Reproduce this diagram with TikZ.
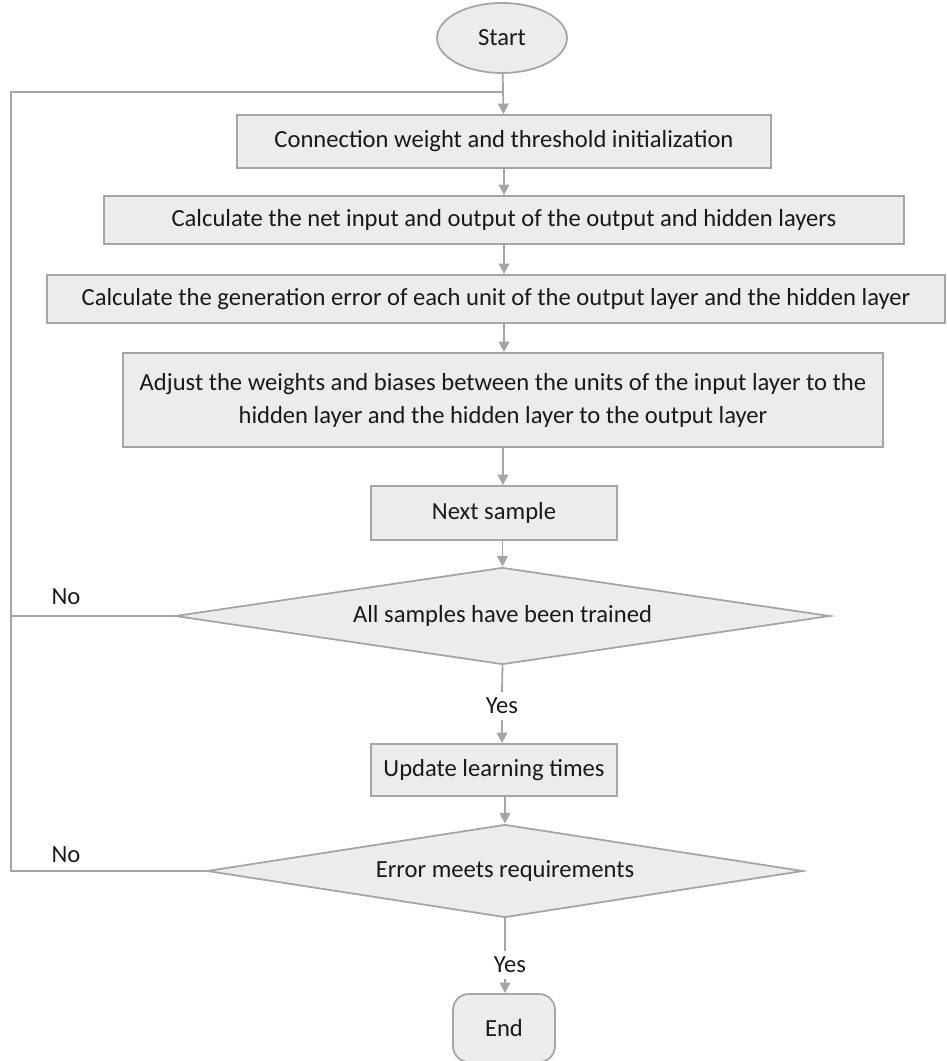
\documentclass[tikz,border=0pt]{standalone}
\usepackage{fontspec}
\setmainfont{Carlito}
\usepackage{tikz}
\usetikzlibrary{shapes.geometric, arrows.meta}
\definecolor{FlowFill}{RGB}{236,236,236}
\definecolor{FlowLine}{RGB}{165,165,165}
\definecolor{FlowText}{RGB}{25,25,25}

\begin{document}
\begin{tikzpicture}[
          font=\fontsize{14}{18.8}\selectfont, text=FlowText,
          pbox/.style={rectangle, draw=FlowLine, fill=FlowFill, line width=1pt,
                       minimum height=1.0cm, align=center, inner sep=2pt},
          dbox/.style={diamond, draw=FlowLine, fill=FlowFill, line width=1pt,
                       aspect=6.5, inner sep=2pt},
          arr/.style={-{Triangle[length=6pt, width=6pt]}, draw=FlowLine, line width=1pt},
          lnk/.style={draw=FlowLine, line width=1pt}
        ]
        \useasboundingbox (0,0) rectangle (18.94,-21.22);

        \node[ellipse, draw=FlowLine, fill=FlowFill, line width=1pt,
              minimum width=2.6cm, minimum height=1.4cm]
              (start) at (10.04,-0.76) {Start};

        \node[pbox, minimum width=10.68cm, minimum height=1.06cm]
              (init) at (10.08,-2.83) {Connection weight and threshold initialization};
        \node[pbox, minimum width=16cm, minimum height=0.96cm]
              (net) at (10.08,-4.40) {Calculate the net input and output of the output and hidden layers};
        \node[pbox, minimum width=17.96cm, minimum height=0.96cm]
              (gerr) at (9.92,-5.98) {Calculate the generation error of each unit of the output layer and the hidden layer};
        \node[pbox, minimum width=15.2cm, minimum height=1.88cm]
              (adj) at (10.06,-8.00) {Adjust the weights and biases between the units of the input layer to the\\
                                     hidden layer and the hidden layer to the output layer};
        \node[pbox, minimum width=4.92cm, minimum height=1.08cm]
              (next) at (9.88,-10.26) {Next sample};

        \node[dbox, minimum width=13.1cm, minimum height=1.94cm]
              (alltr) at (10.05,-12.32) {All samples have been trained};
        \node (yes1) at (10.04,-14.12) {Yes};

        \node[pbox, minimum width=4.92cm, minimum height=1.04cm]
              (upd) at (9.88,-15.40) {Update learning times};

        \node[dbox, minimum width=11.92cm, minimum height=1.86cm]
              (errok) at (10.1,-17.42) {Error meets requirements};
        \node (yes2) at (10.2,-19.30) {Yes};

        \node[rectangle, rounded corners=9pt, draw=FlowLine, fill=FlowFill, line width=1pt,
              minimum width=2.04cm, minimum height=1.36cm]
              (stop) at (10.08,-20.56) {End};

        \node (no1) at (1.32,-11.94) {No};
        \node (no2) at (1.32,-17.10) {No};

        \coordinate (loopx) at (0.22,0);
        \coordinate (merge) at (10.06,-1.84);

        \draw[arr] (start) -- (init);
        \draw[arr] (init.south) -- (init.south |- net.north);
        \draw[arr] (net.south) -- (net.south |- gerr.north);
        \draw[arr] (gerr.south -| net.south) -- (adj.north -| net.south);
        \draw[arr] (adj.south) -- (adj.south |- next.north);
        \draw[arr] (next.south -| alltr.north) -- (alltr.north);
        \draw[lnk] (alltr.south) -- (yes1.north);
        \draw[arr] (yes1.south) -- (yes1.south |- upd.north);
        \draw[arr] (upd.south -| errok.north) -- (errok.north);
        \draw[lnk] (errok.south) -- (errok.south |- yes2.north);
        \draw[arr] (yes2.south -| errok.south) -- (errok.south |- stop.north);

        % loop back to the initialization
        \draw[lnk] (alltr.west) -- (alltr.west -| loopx);
        \draw[lnk] (errok.west) -- (errok.west -| loopx) |- (merge);
      \end{tikzpicture}
\end{document}
